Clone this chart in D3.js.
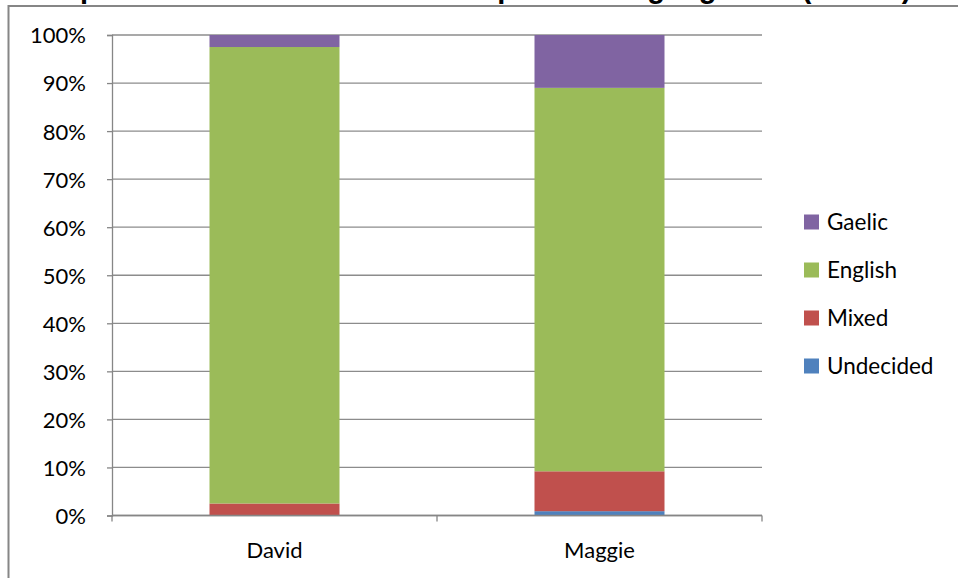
<!DOCTYPE html>
<html>
<head>
<meta charset="utf-8">
<script src="https://cdn.jsdelivr.net/npm/d3@7"></script>
<style>
  html, body { margin: 0; padding: 0; background: #fff; }
  svg { display: block; }
  .lbl { font-family: Lato, "Open Sans", sans-serif; fill: #000; }
</style>
</head>
<body>
<svg id="chart" width="958" height="578"></svg>
<script>
// Speakers (categories) and the share of each reported language choice
const speakers = ["David", "Maggie"];
const seriesNames = ["Undecided", "Mixed", "English", "Gaelic"];
const undecided = [0.0, 0.9];
const mixed = [2.5, 8.3];
const english = [95.0, 79.8];
const gaelic = [2.5, 11.0];
const yTicks = [0, 10, 20, 30, 40, 50, 60, 70, 80, 90, 100];
const colors = ["#4F81BD", "#C0504D", "#9BBB59", "#8064A2"];
const titleText = "Graph 6.1: Initial Code Choice: Reported Language Use (Adults)";

const rows = speakers.map((s, i) => ({
  speaker: s,
  Undecided: undecided[i],
  Mixed: mixed[i],
  English: english[i],
  Gaelic: gaelic[i]
}));

const svg = d3.select("#chart");

// Chart frame
svg.append("rect")
  .attr("x", 8.5).attr("y", 6)
  .attr("width", 980).attr("height", 600)
  .attr("fill", "#fff")
  .attr("stroke", "#868686").attr("stroke-width", 2);

// Title sits above the frame and runs past the top edge of the page
svg.append("text")
  .attr("x", 30).attr("y", -2)
  .attr("font-family", "Arial, 'Liberation Sans', sans-serif")
  .attr("font-weight", "bold")
  .attr("font-size", 29)
  .text(titleText);

const plot = { left: 112, right: 762, top: 35, bottom: 515.5 };

const x = d3.scaleBand()
  .domain(speakers)
  .range([plot.left, plot.right])
  .padding(0);

const y = d3.scaleLinear()
  .domain([0, 100])
  .range([plot.bottom, plot.top]);

const color = d3.scaleOrdinal().domain(seriesNames).range(colors);

// Horizontal gridlines
svg.append("g")
  .selectAll("line")
  .data(yTicks)
  .join("line")
  .attr("x1", plot.left).attr("x2", plot.right)
  .attr("y1", d => y(d)).attr("y2", d => y(d))
  .attr("stroke", "#8c8c8c").attr("stroke-width", 1.3);

// Stacked bars
const stacked = d3.stack().keys(seriesNames)(rows);
const barW = x.bandwidth() * 0.4;

svg.append("g")
  .selectAll("g")
  .data(stacked)
  .join("g")
  .attr("fill", d => color(d.key))
  .selectAll("rect")
  .data(d => d)
  .join("rect")
  .attr("x", d => x(d.data.speaker) + (x.bandwidth() - barW) / 2)
  .attr("width", barW)
  .attr("y", d => y(d[1]))
  .attr("height", d => Math.max(0, y(d[0]) - y(d[1])));

// Y axis
const yAxis = svg.append("g")
  .attr("transform", `translate(${plot.left},0)`)
  .call(d3.axisLeft(y).tickValues(yTicks).tickSize(5).tickPadding(21)
    .tickFormat(d => d + "%"));
yAxis.select(".domain").attr("stroke", "#868686").attr("stroke-width", 1.3);
yAxis.selectAll(".tick line").attr("stroke", "#868686").attr("stroke-width", 1.3);
yAxis.selectAll(".tick text")
  .attr("class", "lbl")
  .attr("font-size", 22)
  .attr("dy", "0.36em");

// X axis with tick marks at category boundaries
const xAxis = svg.append("g")
  .attr("transform", `translate(0,${plot.bottom})`);
xAxis.append("line")
  .attr("x1", plot.left).attr("x2", plot.right)
  .attr("stroke", "#868686").attr("stroke-width", 1.3);
const bounds = speakers.map(s => x(s)).concat([x(speakers[speakers.length - 1]) + x.bandwidth()]);
xAxis.selectAll("line.tk")
  .data(bounds)
  .join("line")
  .attr("class", "tk")
  .attr("x1", d => d).attr("x2", d => d)
  .attr("y1", 0).attr("y2", 6)
  .attr("stroke", "#868686").attr("stroke-width", 1.3);
xAxis.selectAll("text")
  .data(speakers)
  .join("text")
  .attr("class", "lbl")
  .attr("x", d => x(d) + x.bandwidth() / 2)
  .attr("y", 42)
  .attr("text-anchor", "middle")
  .attr("font-size", 22)
  .text(d => d);

// Legend, top series first
const legend = svg.append("g").attr("transform", "translate(804,222)");
const legendItems = seriesNames.slice().reverse();
const li = legend.selectAll("g")
  .data(legendItems)
  .join("g")
  .attr("transform", (d, i) => `translate(0,${i * 48})`);
li.append("rect")
  .attr("x", 0).attr("y", -7.5)
  .attr("width", 15).attr("height", 15)
  .attr("fill", d => color(d));
li.append("text")
  .attr("class", "lbl")
  .attr("x", 23).attr("y", 0)
  .attr("dy", "0.36em")
  .attr("font-size", 22.5)
  .text(d => d);
</script>
</body>
</html>
